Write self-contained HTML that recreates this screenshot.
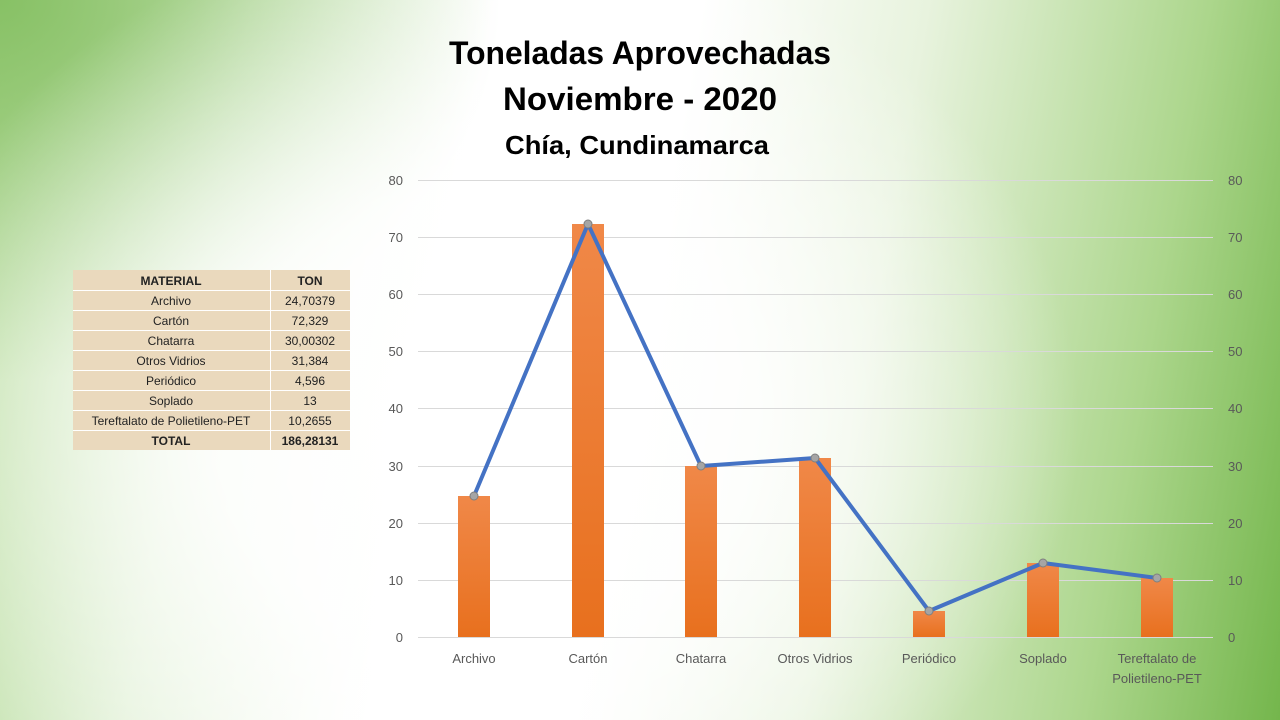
<!DOCTYPE html>
<html><head><meta charset="utf-8"><style>
body{margin:0;width:1280px;height:720px;overflow:hidden;font-family:"Liberation Sans",sans-serif;}
.bg{position:absolute;left:0;top:0;width:1280px;height:720px;
background:
radial-gradient(ellipse 600px 500px at 480px 420px, rgba(255,255,255,1) 0%, rgba(255,255,255,0.85) 45%, rgba(255,255,255,0) 100%),
radial-gradient(ellipse 500px 380px at 0px 0px, rgba(130,190,95,0.9) 0%, rgba(130,190,95,0) 100%),
linear-gradient(100deg,#b8dc9e 0%,#e4f2da 18%,#ffffff 35%,#ffffff 50%,#e8f3de 66%,#acd68c 86%,#74b64c 100%);}
</style></head><body>
<div class="bg"></div>
<svg width="1280" height="720" style="position:absolute;left:0;top:0" font-family="Liberation Sans, sans-serif">
<defs><linearGradient id="bar" x1="0" y1="0" x2="0" y2="1"><stop offset="0" stop-color="#f08848"/><stop offset="1" stop-color="#e8701e"/></linearGradient></defs>
<text x="640" y="64" text-anchor="middle" font-size="32" font-weight="bold" textLength="382" lengthAdjust="spacingAndGlyphs">Toneladas Aprovechadas</text>
<text x="640" y="110" text-anchor="middle" font-size="32" font-weight="bold" textLength="274" lengthAdjust="spacingAndGlyphs">Noviembre - 2020</text>
<text x="637" y="154" text-anchor="middle" font-size="26" font-weight="bold" textLength="264" lengthAdjust="spacingAndGlyphs">Chía, Cundinamarca</text>
<g stroke="#d9d9d9" stroke-width="1">
<line x1="418" x2="1213" y1="180.5" y2="180.5"/><line x1="418" x2="1213" y1="237.5" y2="237.5"/>
<line x1="418" x2="1213" y1="294.5" y2="294.5"/><line x1="418" x2="1213" y1="351.5" y2="351.5"/>
<line x1="418" x2="1213" y1="408.5" y2="408.5"/><line x1="418" x2="1213" y1="466.5" y2="466.5"/>
<line x1="418" x2="1213" y1="523.5" y2="523.5"/><line x1="418" x2="1213" y1="580.5" y2="580.5"/>
<line x1="418" x2="1213" y1="637.5" y2="637.5"/></g>
<g font-size="13" fill="#595959">
<g text-anchor="end"><text x="403" y="185">80</text><text x="403" y="242">70</text><text x="403" y="299">60</text><text x="403" y="356">50</text><text x="403" y="413">40</text><text x="403" y="471">30</text><text x="403" y="528">20</text><text x="403" y="585">10</text><text x="403" y="642">0</text></g>
<g><text x="1228" y="185">80</text><text x="1228" y="242">70</text><text x="1228" y="299">60</text><text x="1228" y="356">50</text><text x="1228" y="413">40</text><text x="1228" y="471">30</text><text x="1228" y="528">20</text><text x="1228" y="585">10</text><text x="1228" y="642">0</text></g>
<g text-anchor="middle"><text x="474" y="663">Archivo</text><text x="588" y="663">Cartón</text><text x="701" y="663">Chatarra</text><text x="815" y="663">Otros Vidrios</text><text x="929" y="663">Periódico</text><text x="1043" y="663">Soplado</text><text x="1157" y="663">Tereftalato de</text><text x="1157" y="683">Polietileno-PET</text></g>
</g>
<g fill="url(#bar)">
<rect x="458" y="496" width="32" height="141"/><rect x="572" y="224" width="32" height="413"/>
<rect x="685" y="466" width="32" height="171"/><rect x="799" y="458" width="32" height="179"/>
<rect x="913" y="611" width="32" height="26"/><rect x="1027" y="563" width="32" height="74"/>
<rect x="1141" y="578" width="32" height="59"/></g>
<polyline fill="none" stroke="#4472c4" stroke-width="4" stroke-linejoin="round" points="474,496 588,224 701,466 815,458 929,611 1043,563 1157,578"/>
<g fill="#a5a5a5" stroke="#7f7f7f" stroke-width="1">
<circle cx="474" cy="496" r="4"/><circle cx="588" cy="224" r="4"/><circle cx="701" cy="466" r="4"/><circle cx="815" cy="458" r="4"/><circle cx="929" cy="611" r="4"/><circle cx="1043" cy="563" r="4"/><circle cx="1157" cy="578" r="4"/></g>
<g>
<rect x="73" y="270" width="277" height="180" fill="#ead9bd"/>
<g stroke="#fff" stroke-width="1"><line x1="270.5" x2="270.5" y1="270" y2="450"/>
<line x1="73" x2="350" y1="290.5" y2="290.5"/><line x1="73" x2="350" y1="310.5" y2="310.5"/><line x1="73" x2="350" y1="330.5" y2="330.5"/><line x1="73" x2="350" y1="350.5" y2="350.5"/><line x1="73" x2="350" y1="370.5" y2="370.5"/><line x1="73" x2="350" y1="390.5" y2="390.5"/><line x1="73" x2="350" y1="410.5" y2="410.5"/><line x1="73" x2="350" y1="430.5" y2="430.5"/></g>
<g font-size="12" fill="#222" text-anchor="middle">
<text x="171" y="285" font-weight="bold">MATERIAL</text><text x="310" y="285" font-weight="bold">TON</text>
<text x="171" y="305">Archivo</text><text x="310" y="305">24,70379</text>
<text x="171" y="325">Cartón</text><text x="310" y="325">72,329</text>
<text x="171" y="345">Chatarra</text><text x="310" y="345">30,00302</text>
<text x="171" y="365">Otros Vidrios</text><text x="310" y="365">31,384</text>
<text x="171" y="385">Periódico</text><text x="310" y="385">4,596</text>
<text x="171" y="405">Soplado</text><text x="310" y="405">13</text>
<text x="171" y="425">Tereftalato de Polietileno-PET</text><text x="310" y="425">10,2655</text>
<text x="171" y="445" font-weight="bold">TOTAL</text><text x="310" y="445" font-weight="bold">186,28131</text>
</g></g>
</svg>
</body></html>
